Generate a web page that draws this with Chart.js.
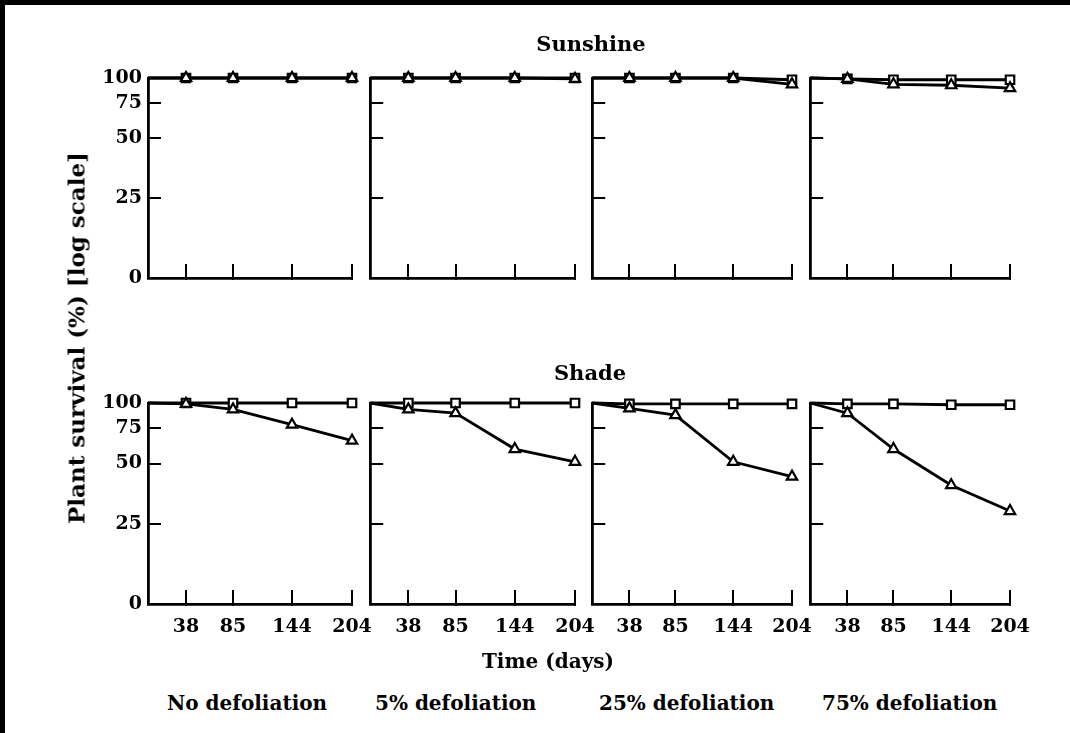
<!DOCTYPE html>
<html>
<head>
<meta charset="utf-8">
<script src="https://cdn.jsdelivr.net/npm/chart.js@4.4.1/dist/chart.umd.min.js"></script>
<style>
  body { margin: 0; background: #fff; }
  #page { position: relative; width: 1070px; height: 733px; background: #fff; overflow: hidden;
          font-family: 'DejaVu Serif', serif; font-weight: bold; color: #000; }
  .frame-top { position: absolute; left: 0; top: 0; width: 1070px; height: 5px; background: #000; }
  .frame-left { position: absolute; left: 0; top: 0; width: 5px; height: 733px; background: #000; }
  .lbl { position: absolute; white-space: nowrap; font-size: 20px; line-height: 1; }
  .center { transform: translate(-50%, -50%); }
  .ytitle { transform: translate(-50%, -50%) rotate(-90deg); }
  canvas { position: absolute; }
</style>
</head>
<body>
<div id="page">
  <div class="frame-top"></div>
  <div class="frame-left"></div>
</div>
<script>
// --- DATA ---
const days = [0, 38, 85, 144, 204];
const dayTicks = [38, 85, 144, 204];
const yTickValues = [10, 25, 50, 75, 100];
const yTickLabels = ['0', '25', '50', '75', '100'];
const rowNames = ['Sunshine', 'Shade'];
const treatments = ['No defoliation', '5% defoliation', '25% defoliation', '75% defoliation'];

// survival (%) per panel (no, 5%, 25%, 75% defoliation); first value is day 0
const sunSquares = [
  [100, 100, 100, 100, 100],
  [100, 100, 100, 100, 100],
  [100, 100, 100, 100, 98],
  [100, 99, 98, 98, 98]
];
const sunTriangles = [
  [100, 100, 100, 100, 100],
  [100, 100, 100, 100, 99],
  [100, 100, 100, 100, 93],
  [100, 99, 93, 92, 89]
];
const shadeSquares = [
  [100, 100, 100, 100, 100],
  [100, 100, 100, 100, 100],
  [100, 99, 99, 99, 99],
  [100, 99, 99, 98, 98]
];
const shadeTriangles = [
  [100, 99, 93, 78, 65],
  [100, 93, 89, 59, 51],
  [100, 94, 87, 51, 43],
  [100, 89, 59, 39, 29]
];

// --- LAYOUT (page pixels of each plot box) ---
const colLeft = [148, 370, 592, 810];
const colRight = [352, 575, 792, 1010];
const rowTop = [78, 403];
const rowBottom = [278, 604];

const page = document.getElementById('page');
const tickFont = { family: 'DejaVu Serif', size: 19, weight: 'bold' };

function addLabel(text, x, y, cls, size) {
  const d = document.createElement('div');
  d.className = 'lbl ' + cls;
  d.textContent = text;
  d.style.left = x + 'px';
  d.style.top = y + 'px';
  if (size) d.style.fontSize = size + 'px';
  page.appendChild(d);
}

function seriesPoints(values) {
  return days.map((d, i) => ({ x: d, y: values[i] }));
}

function makePanel(row, col, squares, triangles) {
  // room around the plot box; the y axis box holds the tick labels of column 1,
  // the x axis box holds the tick labels of the lower row
  const yW = col === 0 ? 70 : 0;
  const xH = row === 1 ? 40 : 0;
  const padL = col === 0 ? 75 : 8;
  const padT = 34, padR = 52;
  const padB = row === 1 ? 52 : 34;
  const w = colRight[col] - colLeft[col];
  const h = rowBottom[row] - rowTop[row];

  const canvas = document.createElement('canvas');
  canvas.width = w + padL + padR;
  canvas.height = h + padT + padB;
  canvas.style.left = (colLeft[col] - padL) + 'px';
  canvas.style.top = (rowTop[row] - padT) + 'px';
  page.appendChild(canvas);

  const markerSize = c => c.dataIndex === 0 ? 0 : 6;

  new Chart(canvas, {
    type: 'line',
    data: {
      datasets: [{
        data: seriesPoints(triangles),
        borderColor: '#000',
        borderWidth: 2.8,
        pointStyle: 'triangle',
        pointRadius: markerSize,
        pointBorderWidth: 2.2,
        pointBorderColor: '#000',
        pointBackgroundColor: '#fff',
        tension: 0,
        clip: false
      }, {
        data: seriesPoints(squares),
        borderColor: '#000',
        borderWidth: 2.8,
        pointStyle: 'rect',
        pointRadius: markerSize,
        pointBorderWidth: 2.2,
        pointBorderColor: '#000',
        pointBackgroundColor: '#fff',
        tension: 0,
        clip: false
      }]
    },
    options: {
      responsive: false,
      animation: false,
      devicePixelRatio: 1,
      events: [],
      layout: { padding: { left: padL - yW, top: padT, right: padR, bottom: padB - xH } },
      plugins: { legend: { display: false }, tooltip: { enabled: false } },
      scales: {
        x: {
          type: 'linear',
          min: 0,
          max: 204,
          afterBuildTicks: s => { s.ticks = dayTicks.map(v => ({ value: v })); },
          afterFit: s => { s.height = xH; },
          grid: { drawOnChartArea: false, drawTicks: true, tickLength: -14, lineWidth: 2, color: '#000' },
          border: { display: true, color: '#000', width: 2.8 },
          ticks: {
            display: row === 1,
            autoSkip: false,
            maxRotation: 0,
            padding: 26,
            color: '#000',
            font: tickFont,
            callback: v => String(v)
          }
        },
        y: {
          type: 'logarithmic',
          min: 10,
          max: 100,
          afterBuildTicks: s => { s.ticks = yTickValues.map(v => ({ value: v })); },
          afterFit: s => { s.width = yW; },
          grid: {
            drawOnChartArea: false,
            drawTicks: true,
            tickLength: -13,
            lineWidth: 2,
            color: c => (c.tick && [25, 50, 75].includes(c.tick.value)) ? '#000' : 'rgba(0,0,0,0)'
          },
          border: { display: true, color: '#000', width: 2.8 },
          ticks: {
            display: col === 0,
            autoSkip: false,
            padding: 19,
            color: '#000',
            font: tickFont,
            callback: v => yTickLabels[yTickValues.indexOf(v)]
          }
        }
      }
    }
  });
}

for (let c = 0; c < 4; c++) {
  makePanel(0, c, sunSquares[c], sunTriangles[c]);
  makePanel(1, c, shadeSquares[c], shadeTriangles[c]);
}

// --- TEXT ---
addLabel(rowNames[0], 591, 43, 'center', 21);
addLabel(rowNames[1], 590, 372, 'center', 21);
addLabel('Plant survival (%) [log scale]', 76, 338, 'ytitle', 23);
addLabel('Time (days)', 548, 661, 'center', 20);
const captionLeft = [167, 375, 599, 822];
treatments.forEach((t, i) => {
  const d = document.createElement('div');
  d.className = 'lbl';
  d.textContent = t;
  d.style.left = captionLeft[i] + 'px';
  d.style.top = '693px';
  page.appendChild(d);
});
</script>
</body>
</html>
